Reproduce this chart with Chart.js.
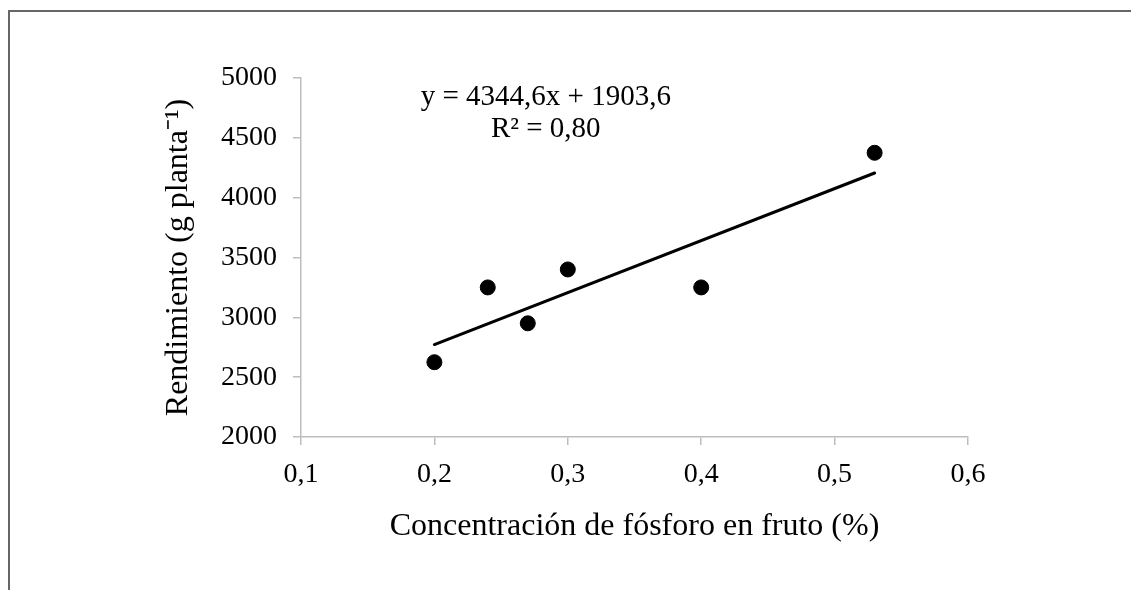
<!DOCTYPE html>
<html>
<head>
<meta charset="utf-8">
<script src="https://cdn.jsdelivr.net/npm/chart.js@4"></script>
<style>
  html, body { margin: 0; padding: 0; background: #fff; }
  #wrap { position: relative; width: 1131px; height: 590px; overflow: hidden; }
  #frame { position: absolute; left: 8px; top: 10px; width: 1200px; height: 700px;
           border-left: 2px solid #666; border-top: 2px solid #666; }
  canvas { position: absolute; left: 0; top: 0; }
</style>
</head>
<body>
<div id="wrap">
  <div id="frame"></div>
  <canvas id="c" width="1131" height="590"></canvas>
</div>
<script>
const xValues = [0.2, 0.24, 0.27, 0.3, 0.4, 0.53];
const yValues = [2625, 3250, 2950, 3400, 3250, 4375];
const slope = 4344.6;
const intercept = 1903.6;
const trendX = [0.2, 0.53];
const equationLines = ['y = 4344,6x + 1903,6', 'R² = 0,80'];
const xTitle = 'Concentración de fósforo en fruto (%)';
const yTitle = 'Rendimiento (g planta⁻¹)';

const FONT = '"Liberation Serif", "Times New Roman", serif';
const AXIS = '#bdbdbd';

const points = xValues.map((x, i) => ({ x: x, y: yValues[i] }));
const trend = trendX.map(x => ({ x: x, y: slope * x + intercept }));

const eqPlugin = {
  id: 'eq',
  afterDatasetsDraw(chart) {
    const ctx = chart.ctx;
    const xs = chart.scales.x, ys = chart.scales.y;
    ctx.save();
    ctx.fillStyle = '#000';
    ctx.font = '29px ' + FONT;
    ctx.textAlign = 'center';
    ctx.textBaseline = 'middle';
    const cx = xs.getPixelForValue(0.2835);
    ctx.fillText(equationLines[0], cx, ys.getPixelForValue(4841));
    ctx.fillText(equationLines[1], cx, ys.getPixelForValue(4574));
    ctx.restore();
  }
};

new Chart(document.getElementById('c'), {
  type: 'scatter',
  data: {
    datasets: [
      {
        type: 'line',
        data: trend,
        borderColor: '#000',
        borderWidth: 3,
        pointRadius: 0,
        fill: false,
        borderCapStyle: 'round'
      },
      {
        data: points,
        backgroundColor: '#000',
        borderColor: '#000',
        pointRadius: 7.5,
        pointHoverRadius: 7.5
      }
    ]
  },
  options: {
    responsive: false,
    animation: false,
    events: [],
    layout: { padding: { left: 150, top: 78, right: 163, bottom: 40 } },
    plugins: { legend: { display: false }, tooltip: { enabled: false } },
    scales: {
      x: {
        type: 'linear',
        min: 0.1, max: 0.6,
        afterFit(s) { s.height = 113; },
        ticks: {
          stepSize: 0.1,
          color: '#000',
          font: { family: FONT, size: 28 },
          padding: 13,
          maxRotation: 0,
          callback: v => v.toFixed(1).replace('.', ',')
        },
        grid: { drawOnChartArea: false, drawTicks: true, tickLength: 8, color: AXIS, lineWidth: 1.5 },
        border: { color: AXIS, width: 1.5 },
        title: { display: true, text: xTitle, color: '#000', font: { family: FONT, size: 32 }, padding: { top: 0, bottom: 4 } }
      },
      y: {
        type: 'linear',
        min: 2000, max: 5000,
        afterFit(s) { s.width = 151; },
        ticks: {
          stepSize: 500,
          color: '#000',
          font: { family: FONT, size: 28 },
          padding: 16,
          callback: v => String(v)
        },
        grid: { drawOnChartArea: false, drawTicks: true, tickLength: 8, color: AXIS, lineWidth: 1.5 },
        border: { color: AXIS, width: 1.5 },
        title: { display: true, text: yTitle, color: '#000', font: { family: FONT, size: 32 }, padding: { top: 9, bottom: 0 } }
      }
    }
  },
  plugins: [eqPlugin]
});
</script>
</body>
</html>
